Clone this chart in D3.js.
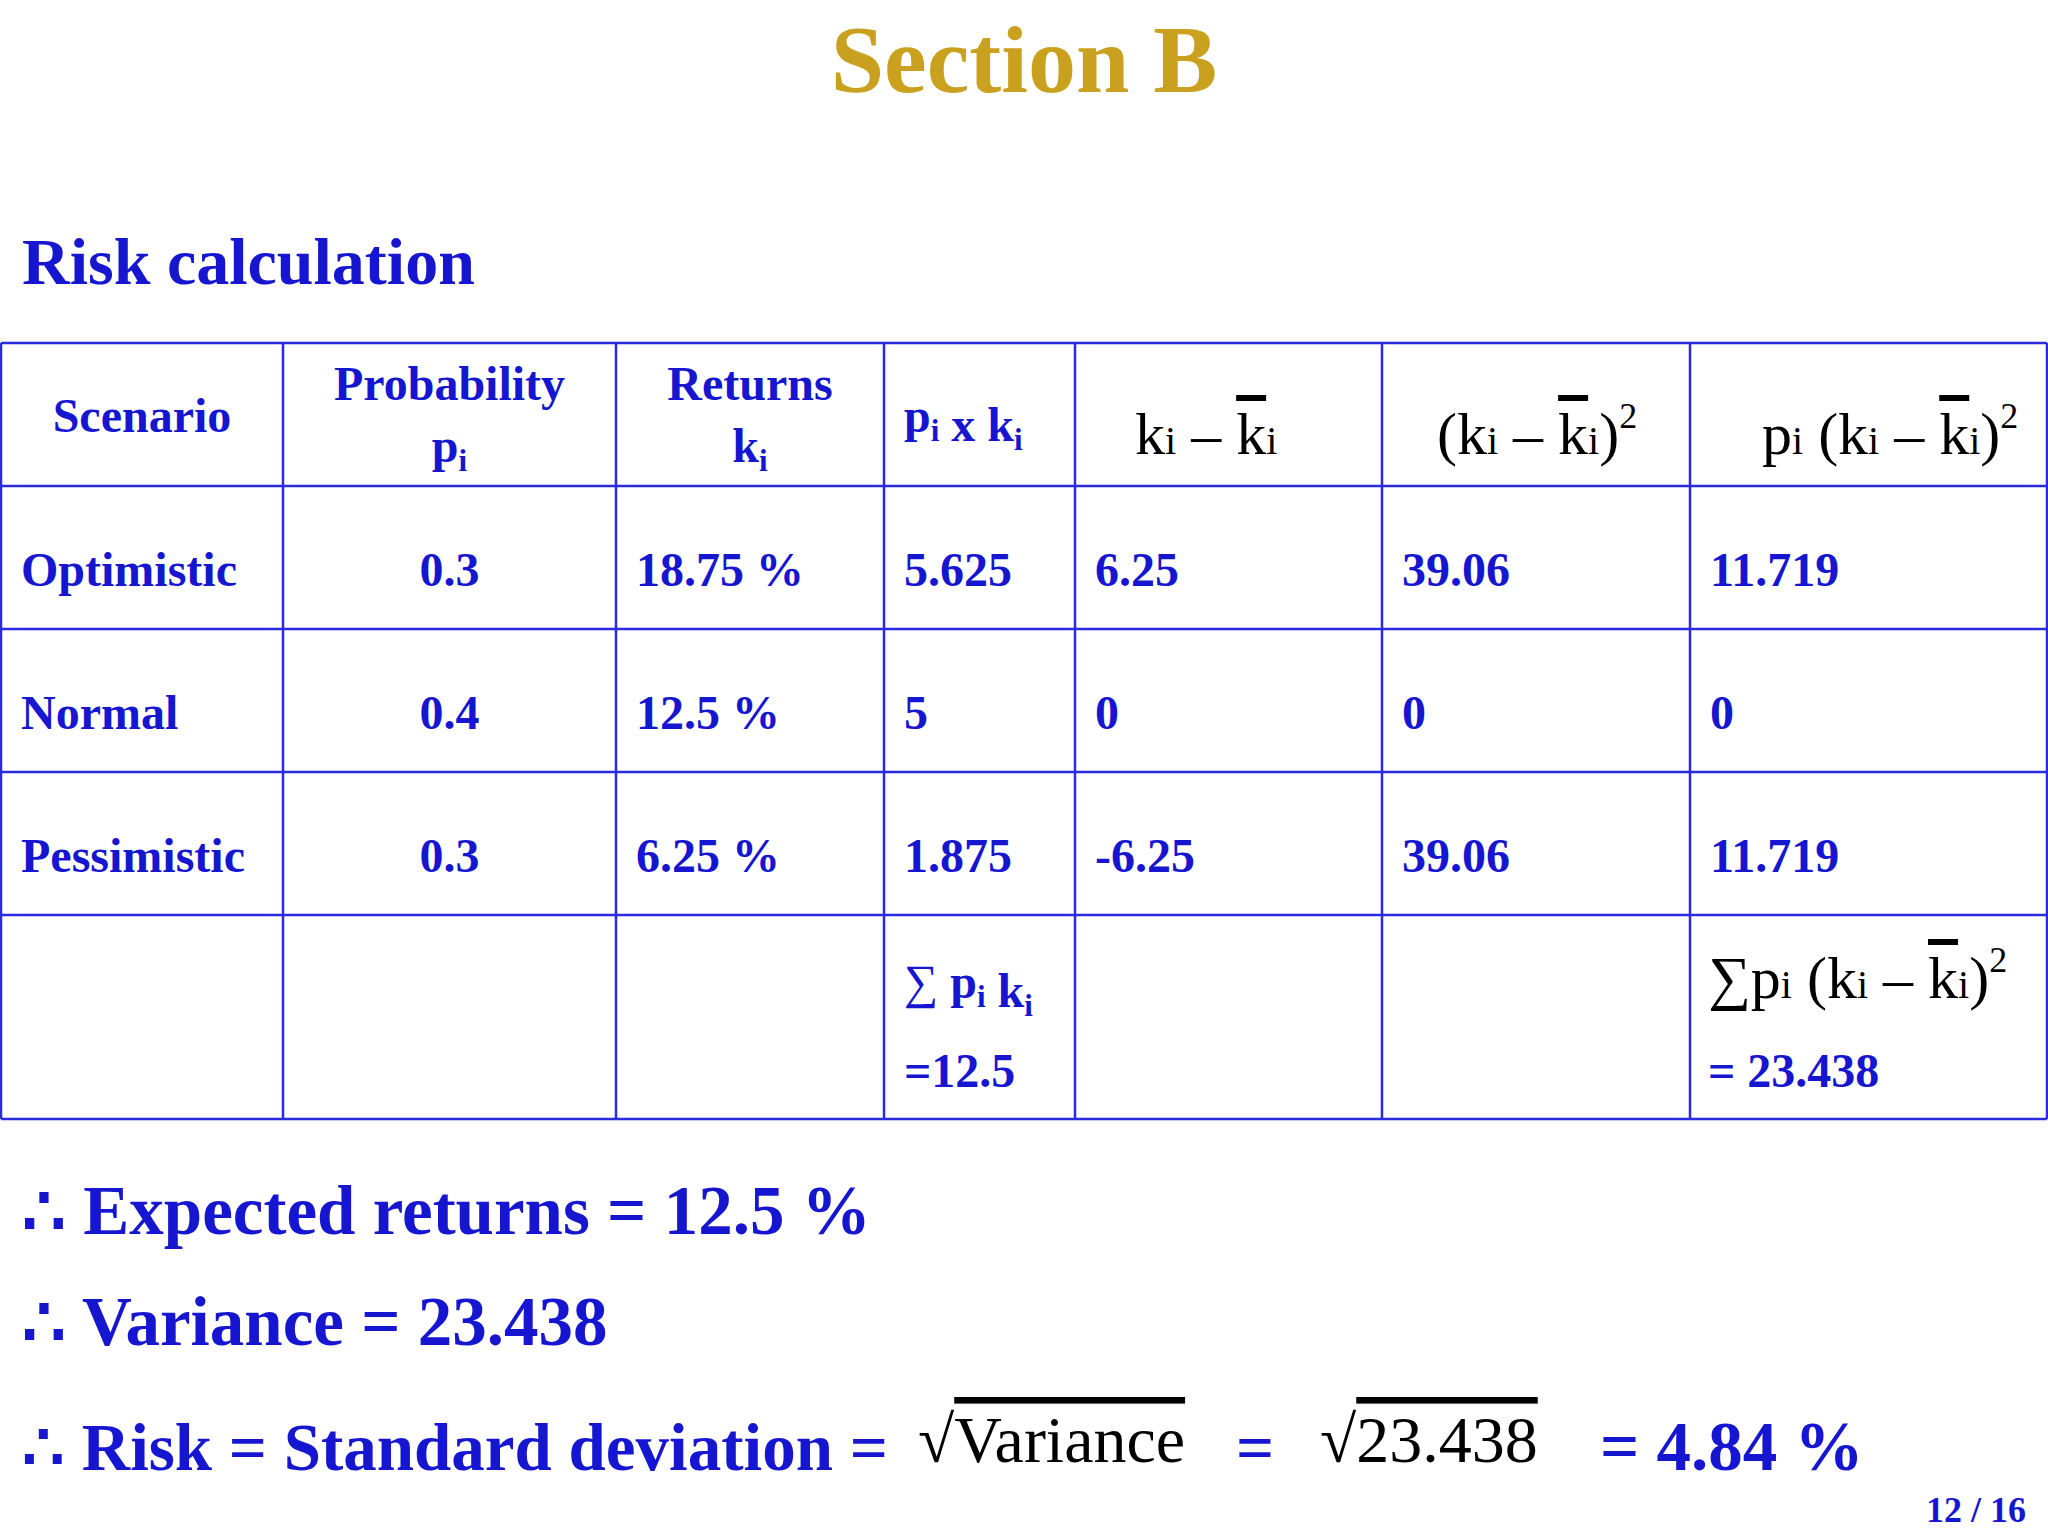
<!DOCTYPE html>
<meta charset="utf-8">
<html>
<head>
<style>
  body { margin: 0; background: #fff; }
  text { font-family: "Liberation Serif", "Times New Roman", serif; }
  .ol { text-decoration: overline; }
</style>
</head>
<body>
<script src="https://cdn.jsdelivr.net/npm/d3@7"></script>
<script>
  // data
  scenarios = ["Optimistic", "Normal", "Pessimistic"];
  probabilities = ["0.3", "0.4", "0.3"];
  returns = ["18.75 %", "12.5 %", "6.25 %"];
  pk = ["5.625", "5", "1.875"];
  deviation = ["6.25", "0", "-6.25"];
  devSquared = ["39.06", "0", "39.06"];
  weighted = ["11.719", "0", "11.719"];
  sumPk = "=12.5";
  sumVar = "= 23.438";
  conclusions = ["Expected returns = 12.5 %", "Variance = 23.438"];

  var W = 2048, H = 1536;
  var blue = "#1616d0", gold = "#c9a11f";
  var svg = d3.select("body").append("svg").attr("width", W).attr("height", H);

  // layout
  var colEdges = [1, 283, 616, 884, 1075, 1382, 1690, 2047];
  var rowEdges = [343, 486, 629, 772, 915, 1119];

  svg.append("text").attr("x", 1024).attr("y", 92).attr("text-anchor", "middle")
    .attr("font-size", 96).attr("font-weight", "bold").attr("fill", gold).text("Section B");
  svg.append("text").attr("x", 22).attr("y", 284)
    .attr("font-size", 66).attr("font-weight", "bold").attr("fill", blue).text("Risk calculation");

  // grid
  var g = svg.append("g").attr("stroke", "#2a2ae0").attr("stroke-width", 2.5);
  g.selectAll("line.v").data(colEdges).enter().append("line")
    .attr("x1", d => d).attr("x2", d => d).attr("y1", rowEdges[0]).attr("y2", rowEdges[5]);
  g.selectAll("line.h").data(rowEdges).enter().append("line")
    .attr("y1", d => d).attr("y2", d => d).attr("x1", colEdges[0]).attr("x2", colEdges[7]);

  function cx(i) { return (colEdges[i] + colEdges[i + 1]) / 2; }
  function bt(x, y, anchor, size) {
    return svg.append("text").attr("x", x).attr("y", y).attr("text-anchor", anchor || "start")
      .attr("font-size", size || 48).attr("font-weight", "bold").attr("fill", blue);
  }
  function sub(t, s) { t.append("tspan").attr("font-size", 31).attr("dy", 9).text(s); t.append("tspan").attr("dy", -9).text(""); }

  // header
  bt(cx(0), 432, "middle").text("Scenario");
  bt(cx(1), 400, "middle").text("Probability");
  var t = bt(cx(1), 462, "middle"); t.append("tspan").text("p"); sub(t, "i");
  bt(cx(2), 400, "middle").text("Returns");
  t = bt(cx(2), 462, "middle"); t.append("tspan").text("k"); sub(t, "i");
  t = bt(colEdges[3] + 20, 432); t.append("tspan").text("p"); sub(t, "i"); t.append("tspan").text(" x k"); sub(t, "i");

  function formula(x0, y, parts, size) {
    var tt = svg.append("text").attr("x", x0).attr("y", y).attr("font-size", size || 60).attr("fill", "#000");
    parts.forEach(function (p) {
      var s = tt.append("tspan").text(p[0]);
      if (p[1] == "sub") s.attr("font-size", 40);
      if (p[1] == "ol") s.attr("class", "ol");
      if (p[1] == "sup") s.attr("font-size", 36).attr("dy", -26);
    });
    return tt;
  }
  formula(colEdges[4] + 60, 454, [["k"], ["i", "sub"], [" \u2013 "], ["k", "ol"], ["i", "sub"]]);
  formula(colEdges[5] + 55, 454, [["(k"], ["i", "sub"], [" \u2013 "], ["k", "ol"], ["i", "sub"], [")"], ["2", "sup"]]);
  formula(colEdges[6] + 72, 454, [["p"], ["i", "sub"], [" (k"], ["i", "sub"], [" \u2013 "], ["k", "ol"], ["i", "sub"], [")"], ["2", "sup"]]);

  // body rows
  var cols = [scenarios, probabilities, returns, pk, deviation, devSquared, weighted];
  cols.forEach(function (arr, c) {
    arr.forEach(function (v, r) {
      var yy = (rowEdges[r + 1] + rowEdges[r + 2]) / 2 + 28;
      if (c == 1) bt(cx(c), yy, "middle").text(v);
      else bt(colEdges[c] + 20, yy).text(v);
    });
  });

  // totals
  t = bt(colEdges[3] + 20, 998); t.append("tspan").attr("font-weight", "normal").text("\u2211 ");
  t.append("tspan").text("p"); sub(t, "i"); t.append("tspan").text(" k"); sub(t, "i");
  bt(colEdges[3] + 20, 1087).text(sumPk);
  formula(colEdges[6] + 18, 998, [["\u2211p"], ["i", "sub"], [" (k"], ["i", "sub"], [" \u2013 "], ["k", "ol"], ["i", "sub"], [")"], ["2", "sup"]]);
  bt(colEdges[6] + 18, 1087).text(sumVar);

  // conclusions
  var ys = [1234, 1345];
  conclusions.forEach(function (c, i) {
    bt(22, ys[i], "start", 69).text("\u2234 " + c);
  });
  bt(22, 1470, "start", 67).text("\u2234 Risk = Standard deviation = ");
  formula(918, 1462, [["\u221a"], ["Variance", "ol"]], 66);
  bt(1236, 1470, "start", 67).text("=");
  formula(1320, 1462, [["\u221a"], ["23.438", "ol"]], 66);
  bt(1600, 1470, "start", 69).text("= 4.84 %");

  bt(2026, 1522, "end", 36).text("12 / 16");
</script>
</body>
</html>
